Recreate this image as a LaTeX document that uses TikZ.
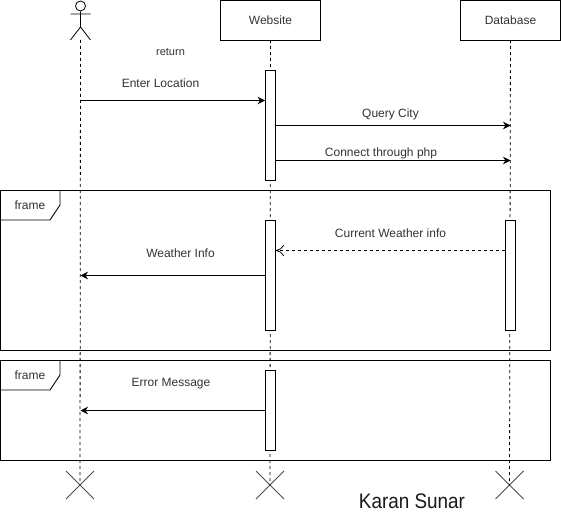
\documentclass[tikz,border=0pt]{standalone}
\usepackage{fontspec}
\setmainfont{Liberation Sans}
\usetikzlibrary{arrows.meta}
\definecolor{labelgray}{gray}{0.2}
\tikzset{
  lifebox/.style={draw,minimum width=100pt,minimum height=40pt,inner sep=0pt,text=labelgray,font=\fontsize{12}{14}\selectfont},
  lifeline/.style={dashed,dash pattern=on 3pt off 3pt,line width=0.8pt},
  actbar/.style={draw,fill=white,minimum width=10pt,inner sep=0pt,line width=0.9pt},
  msgtext/.style={text=labelgray,inner sep=0pt,font=\fontsize{12}{14}\selectfont},
  msgArrow/.style={-{Stealth[length=7.5pt,width=7.5pt]},line width=0.9pt},
  replyArrow/.style={-{To[length=8pt,width=11pt]},dashed,dash pattern=on 3pt off 3pt,line width=0.8pt},
  framebox/.style={draw,line width=0.9pt,minimum width=550pt,inner sep=0pt},
  stopcross/.style={draw=black!70,line width=0.9pt}
}

\begin{document}
\begin{tikzpicture}[x=1pt,y=-1pt]
  \useasboundingbox (0,0) rectangle (561,529);
  \fill[white] (0,0) rectangle (561,529);
  % actor and lifeline heads
  \node[draw,circle,minimum size=10pt,inner sep=0pt,line width=0.8pt] (head) at (80.5,6) {};
  \coordinate (user) at (80.5,40);
  \coordinate (hip) at (80.5,27);
  \draw[line width=0.8pt] (head)--(hip) (70.5,14)--(90.5,14) (70.5,40)--(hip)--(90.5,40);
  \node[lifebox] (web) at (270.5,20) {Website};
  \node[lifebox] (db) at (510.5,20) {Database};
  % end crosses
  \coordinate (userEnd) at (80,485);
  \coordinate (webEnd) at (270,485);
  \coordinate (dbEnd) at (509.5,485);
  \foreach \e in {userEnd,webEnd,dbEnd}
    \draw[stopcross] ([shift={(-14,-14)}]\e)--([shift={(14,14)}]\e) ([shift={(-14,14)}]\e)--([shift={(14,-14)}]\e);
  \draw[lifeline] (user)--(userEnd) (web)--(webEnd) (db)--(dbEnd);
  % frames
  \node[framebox,minimum height=160pt] (frameA) at (275,270) {};
  \node[framebox,minimum height=100pt] (frameB) at (275,410) {};
  \draw[line width=0.9pt] (60,190)--(60,205)--(50,220)--(0,220);
  \draw[line width=0.9pt] (60,360)--(60,375)--(50,390)--(0,390);
  \node[msgtext] (frameAtext) at (30,205) {frame};
  \node[msgtext] (frameBtext) at (30,375) {frame};
  % activation bars
  \node[actbar,minimum height=110pt] (webA) at (270.5,125) {};
  \node[actbar,minimum height=110pt] (webB) at (270.5,275) {};
  \node[actbar,minimum height=80pt] (webC) at (270.5,410) {};
  \node[actbar,minimum height=110pt] (dbA) at (510.5,275) {};
  % messages
  \coordinate (enter) at (80.5,100.5);
  \coordinate (query) at (275.5,125.5);
  \coordinate (php) at (275.5,160.5);
  \coordinate (info) at (80.5,275.5);
  \coordinate (error) at (80.5,410.5);
  \draw[msgArrow] (enter)--(enter -| webA.west);
  \draw[msgArrow] (query)--(query -| db);
  \draw[msgArrow] (php)--(php -| db);
  \draw[replyArrow] (dbA.west |- 0,250.5)--(webB.east |- 0,250.5);
  \draw[msgArrow] (info -| webB.west)--(info);
  \draw[msgArrow] (error -| webC.west)--(error);
  % labels
  \node[msgtext,font=\fontsize{11}{13}\selectfont] (ret) at (170.5,52) {return};
  \node[msgtext] (enterText) at (160.5,83.5) {Enter Location};
  \node[msgtext] (queryText) at (390.5,114) {Query City};
  \node[msgtext] (phpText) at (381,153.5) {Connect through php};
  \node[msgtext] (curText) at (390.5,233.5) {Current Weather info};
  \node[msgtext] (infoText) at (180.5,253.5) {Weather Info};
  \node[msgtext] (errText) at (171,383.5) {Error Message};
  \node[msgtext,text=black!90,font=\fontsize{21}{24}\selectfont] (sign) at (412,501) {\scalebox{0.9}[1]{Karan Sunar}};
\end{tikzpicture}
\end{document}
